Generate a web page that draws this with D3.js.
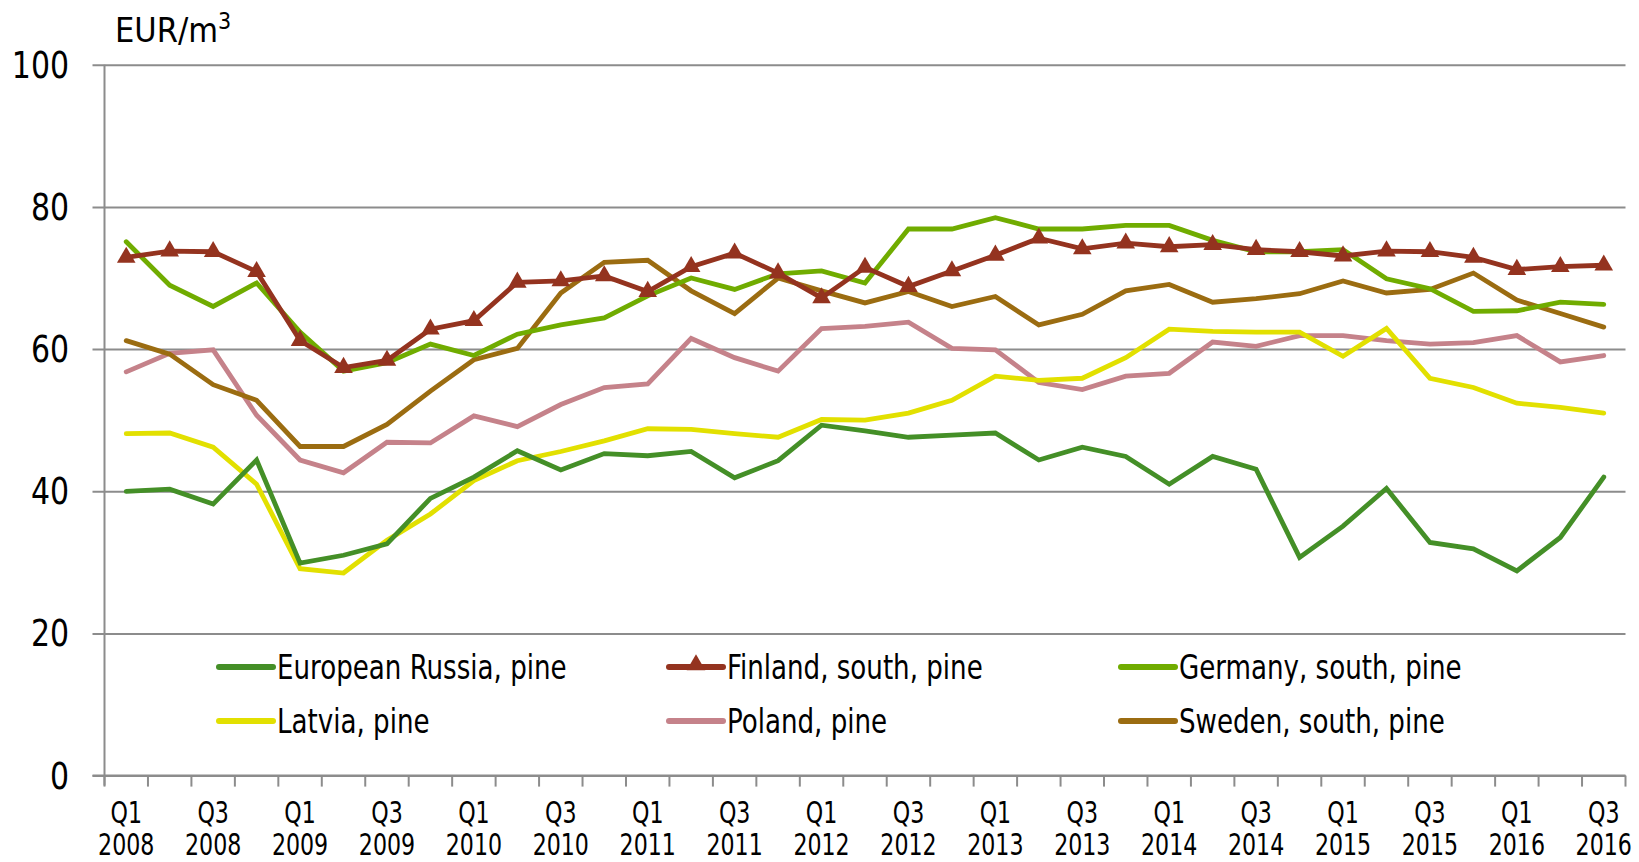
<!DOCTYPE html>
<html><head><meta charset="utf-8">
<script src="https://cdn.jsdelivr.net/npm/d3@7"></script>
<style>
html,body{margin:0;padding:0;background:#fff;}
text{font-family:"DejaVu Sans Condensed","Liberation Sans Narrow",sans-serif;fill:#000;}
</style></head>
<body>
<svg id="chart" width="1639" height="862"></svg>
<script>
const quarters = ["Q1 2008","Q2 2008","Q3 2008","Q4 2008","Q1 2009","Q2 2009","Q3 2009","Q4 2009",
"Q1 2010","Q2 2010","Q3 2010","Q4 2010","Q1 2011","Q2 2011","Q3 2011","Q4 2011",
"Q1 2012","Q2 2012","Q3 2012","Q4 2012","Q1 2013","Q2 2013","Q3 2013","Q4 2013",
"Q1 2014","Q2 2014","Q3 2014","Q4 2014","Q1 2015","Q2 2015","Q3 2015","Q4 2015",
"Q1 2016","Q2 2016","Q3 2016"];
const russia  = [40,40.3,38.2,44.4,29.9,31,32.6,39,42,45.7,43,45.3,45,45.6,41.9,44.3,49.3,48.5,47.6,47.9,48.2,44.4,46.2,44.9,41,44.9,43.1,30.7,35.1,40.4,32.8,31.9,28.8,33.5,42];
const finland = [72.9,73.8,73.7,70.9,61.2,57.4,58.4,62.8,64,69.4,69.6,70.3,68.1,71.6,73.5,70.7,67.2,71.5,68.8,71,73.2,75.6,74.1,74.9,74.4,74.7,74,73.7,73.1,73.8,73.7,72.9,71.2,71.6,71.8];
const germany = [75.1,69,66,69.3,62.4,56.9,58.1,60.7,59.1,62.1,63.4,64.4,67.5,70,68.4,70.6,71,69.3,76.9,76.9,78.5,76.9,76.9,77.4,77.4,75.3,73.7,73.7,74,69.9,68.5,65.3,65.4,66.6,66.3];
const latvia  = [48.1,48.2,46.2,41,29.1,28.5,33.1,36.8,41.5,44.3,45.6,47.1,48.8,48.7,48.1,47.6,50.1,50,51,52.8,56.2,55.6,55.9,58.8,62.8,62.5,62.4,62.4,59,62.9,55.9,54.6,52.4,51.8,51];
const poland  = [56.8,59.4,59.9,50.7,44.4,42.6,46.9,46.8,50.6,49.1,52.2,54.6,55.1,61.5,58.8,56.9,62.9,63.2,63.8,60.1,59.9,55.3,54.3,56.2,56.6,61,60.4,61.9,61.9,61.2,60.7,60.9,61.9,58.2,59.1];
const sweden  = [61.2,59.3,55,52.8,46.3,46.3,49.4,54.1,58.5,60.1,67.9,72.2,72.5,68.2,65,70,68.2,66.5,68.1,66,67.4,63.4,64.9,68.2,69.1,66.6,67.1,67.8,69.6,67.9,68.4,70.7,66.9,65,63.1];
const seriesNames = ["European Russia, pine","Finland, south, pine","Germany, south, pine","Latvia, pine","Poland, pine","Sweden, south, pine"];
const seriesColors = ["#448F27","#94331F","#70AC00","#E2E000","#C5828A","#9B6C11"];
const yTicks = [0,20,40,60,80,100];
const yUnit = "EUR/m";

const series = [
  {name:seriesNames[0], values:russia,  color:seriesColors[0], marker:false},
  {name:seriesNames[1], values:finland, color:seriesColors[1], marker:true},
  {name:seriesNames[2], values:germany, color:seriesColors[2], marker:false},
  {name:seriesNames[3], values:latvia,  color:seriesColors[3], marker:false},
  {name:seriesNames[4], values:poland,  color:seriesColors[4], marker:false},
  {name:seriesNames[5], values:sweden,  color:seriesColors[5], marker:false}
];
const drawOrder = [4,3,0,5,2,1];

const svg = d3.select("#chart");
const L = 104.5, R = 1625.5, T = 64.8, B = 775.6;
const x = d3.scaleBand().domain(quarters).range([L,R]).padding(0);
const y = d3.scaleLinear().domain([0,100]).range([B,T]);
const cx = q => x(q) + x.bandwidth()/2;

function ctext(parent, tx, ty, str, size, sx, anchor){
  return parent.append("text")
    .attr("transform",`translate(${tx},${ty}) scale(${sx},1)`)
    .attr("text-anchor",anchor||"start").attr("font-size",size).text(str);
}

// gridlines
const gy = svg.append("g").attr("transform",`translate(${R},0)`)
  .call(d3.axisLeft(y).tickValues(yTicks).tickSize(R - L + 12).tickFormat(""));
gy.select(".domain").remove();
gy.selectAll(".tick line").attr("stroke","#8c8c8c").attr("stroke-width",2);
yTicks.forEach(v => ctext(svg, 69, y(v)+13, String(v), 37, 0.9, "end"));

svg.append("line").attr("x1",L).attr("x2",L).attr("y1",T).attr("y2",B+10)
  .attr("stroke","#8c8c8c").attr("stroke-width",2);

const bounds = quarters.map(q => x(q)).concat([R]);
svg.append("g").selectAll("line").data(bounds).join("line")
  .attr("x1",d=>d).attr("x2",d=>d).attr("y1",B).attr("y2",B+11)
  .attr("stroke","#8c8c8c").attr("stroke-width",2);
svg.append("line").attr("x1",L-12).attr("x2",R).attr("y1",B).attr("y2",B)
  .attr("stroke","#8c8c8c").attr("stroke-width",2);

// x labels (two lines in one text element)
quarters.filter((q,i)=>i%2===0).forEach(q=>{
  const p = q.split(" ");
  const t = svg.append("text")
    .attr("transform",`translate(${cx(q)},${B+47}) scale(0.82,1)`)
    .attr("text-anchor","middle").attr("font-size",30);
  t.append("tspan").attr("x",0).attr("y",0).text(p[0]);
  t.append("tspan").attr("x",0).attr("dy",32).text(p[1]);
});

const ut = ctext(svg, 115, 42, yUnit, 34, 1.0, "start");
ut.append("tspan").attr("dy",-13).attr("font-size",23).text("3");

const line = d3.line().x((d,i)=>cx(quarters[i])).y(d=>y(d));
const gl = svg.append("g");
drawOrder.forEach(k=>{
  const s = series[k];
  gl.append("path").datum(s.values).attr("d",line).attr("fill","none")
    .attr("stroke",s.color).attr("stroke-width",4.8).attr("stroke-linejoin","miter").attr("stroke-linecap","round");
  if(s.marker){
    gl.append("g").selectAll("path").data(s.values).join("path")
      .attr("d",d3.symbol(d3.symbolTriangle,150))
      .attr("transform",(d,i)=>`translate(${cx(quarters[i])},${y(d)})`)
      .attr("fill",s.color);
  }
});

const legCols = [219, 669, 1121];
const legRows = [667, 721];
series.forEach((s,i)=>{
  const lx = legCols[i%3], ly = legRows[Math.floor(i/3)];
  const g = svg.append("g").attr("transform",`translate(${lx},${ly})`);
  g.append("line").attr("x1",0).attr("x2",54).attr("y1",0).attr("y2",0)
    .attr("stroke",s.color).attr("stroke-width",6).attr("stroke-linecap","round");
  if(s.marker){
    g.append("path").attr("d",d3.symbol(d3.symbolTriangle,150)).attr("transform","translate(27,-2)").attr("fill",s.color);
  }
  ctext(g, 58, 12, s.name, 33, 0.88, "start");
});
</script>
</body></html>
